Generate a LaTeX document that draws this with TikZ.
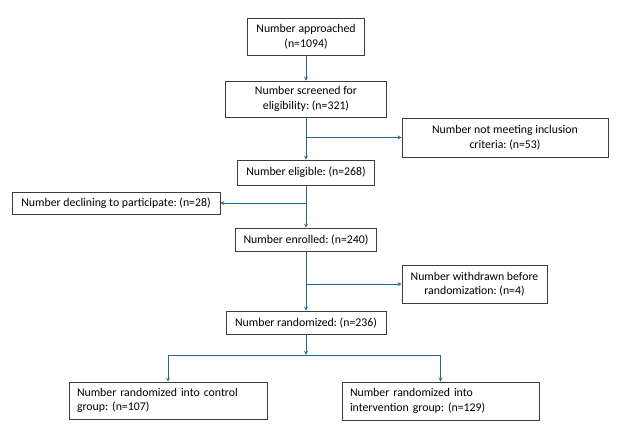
\documentclass[tikz,border=0pt]{standalone}
\usepackage{fontspec}
\setmainfont{Carlito}
\usepackage{tikz}
\usetikzlibrary{calc}
\frenchspacing

\definecolor{flowblue}{RGB}{36,104,145}
\definecolor{boxgray}{RGB}{60,60,60}

\begin{document}
\begin{tikzpicture}[>=stealth, x=1pt, y=-1pt,
    box/.style={draw=boxgray, line width=0.8pt, align=center, inner sep=0pt,
                font=\fontsize{11.8}{14.5}\selectfont},
    leftbox/.style={box, align=left, text width=#1},
    arr/.style={->, flowblue, line width=0.8pt}]
        % --- 1. Frame ---
        \useasboundingbox (0,0) rectangle (624,442);

        % --- 2. Main column ---
        \node[box, minimum width=117, minimum height=37] (App) at (306,36.5) {Number approached\\(n=1094)};
        \node[box, minimum width=161, minimum height=36] (Scr) at (306,99) {Number screened for\\eligibility: (n=321)};
        \node[box, minimum width=137, minimum height=25] (Eli) at (306,172.5) {Number eligible: (n=268)};
        \node[box, minimum width=141, minimum height=23] (Enr) at (306,239.5) {Number enrolled: (n=240)};
        \node[box, minimum width=160, minimum height=23] (Ran) at (306,322.5) {Number randomized: (n=236)};

        % --- 3. Side boxes ---
        \node[box, minimum width=206, minimum height=39] (NotMeet) at (505,137.5) {Number not meeting inclusion\\criteria: (n=53)};
        \node[box, minimum width=208, minimum height=22] (Decl) at (116,203) {Number declining to participate: (n=28)};
        \node[box, minimum width=145, minimum height=38] (Wdr) at (474.5,284) {Number withdrawn before\\randomization: (n=4)};

        % --- 4. Groups ---
        \node[leftbox=182, minimum width=198, minimum height=37, inner xsep=8] (Ctrl) at (168,400.5) {Number randomized into control\\group: (n=107)};
        \node[leftbox=181, minimum width=197, minimum height=38, inner xsep=8] (Intv) at (440.5,401) {Number randomized into\\intervention group: (n=129)};

        % --- 5. Connectors ---
        \draw[arr] (App) -- (Scr);
        \draw[arr] (Scr) -- (Eli);
        \coordinate (B1) at (Scr.south |- NotMeet.west);
        \draw[arr] (B1) -- (NotMeet.west);

        \draw[arr] (Eli) -- (Enr);
        \coordinate (B2) at (Eli.south |- Decl.east);
        \draw[arr] (B2) -- (Decl.east);

        \draw[arr] (Enr) -- (Ran);
        \coordinate (B3) at (Enr.south |- Wdr.west);
        \draw[arr] (B3) -- (Wdr.west);

        \coordinate (Fork) at ($(Ran.south)+(0,20.5)$);
        \draw[arr] (Ran) -- (Fork);
        \draw[arr] (Fork) -| (Ctrl.north);
        \draw[arr] (Fork) -| (Intv.north);
    \end{tikzpicture}
\end{document}
